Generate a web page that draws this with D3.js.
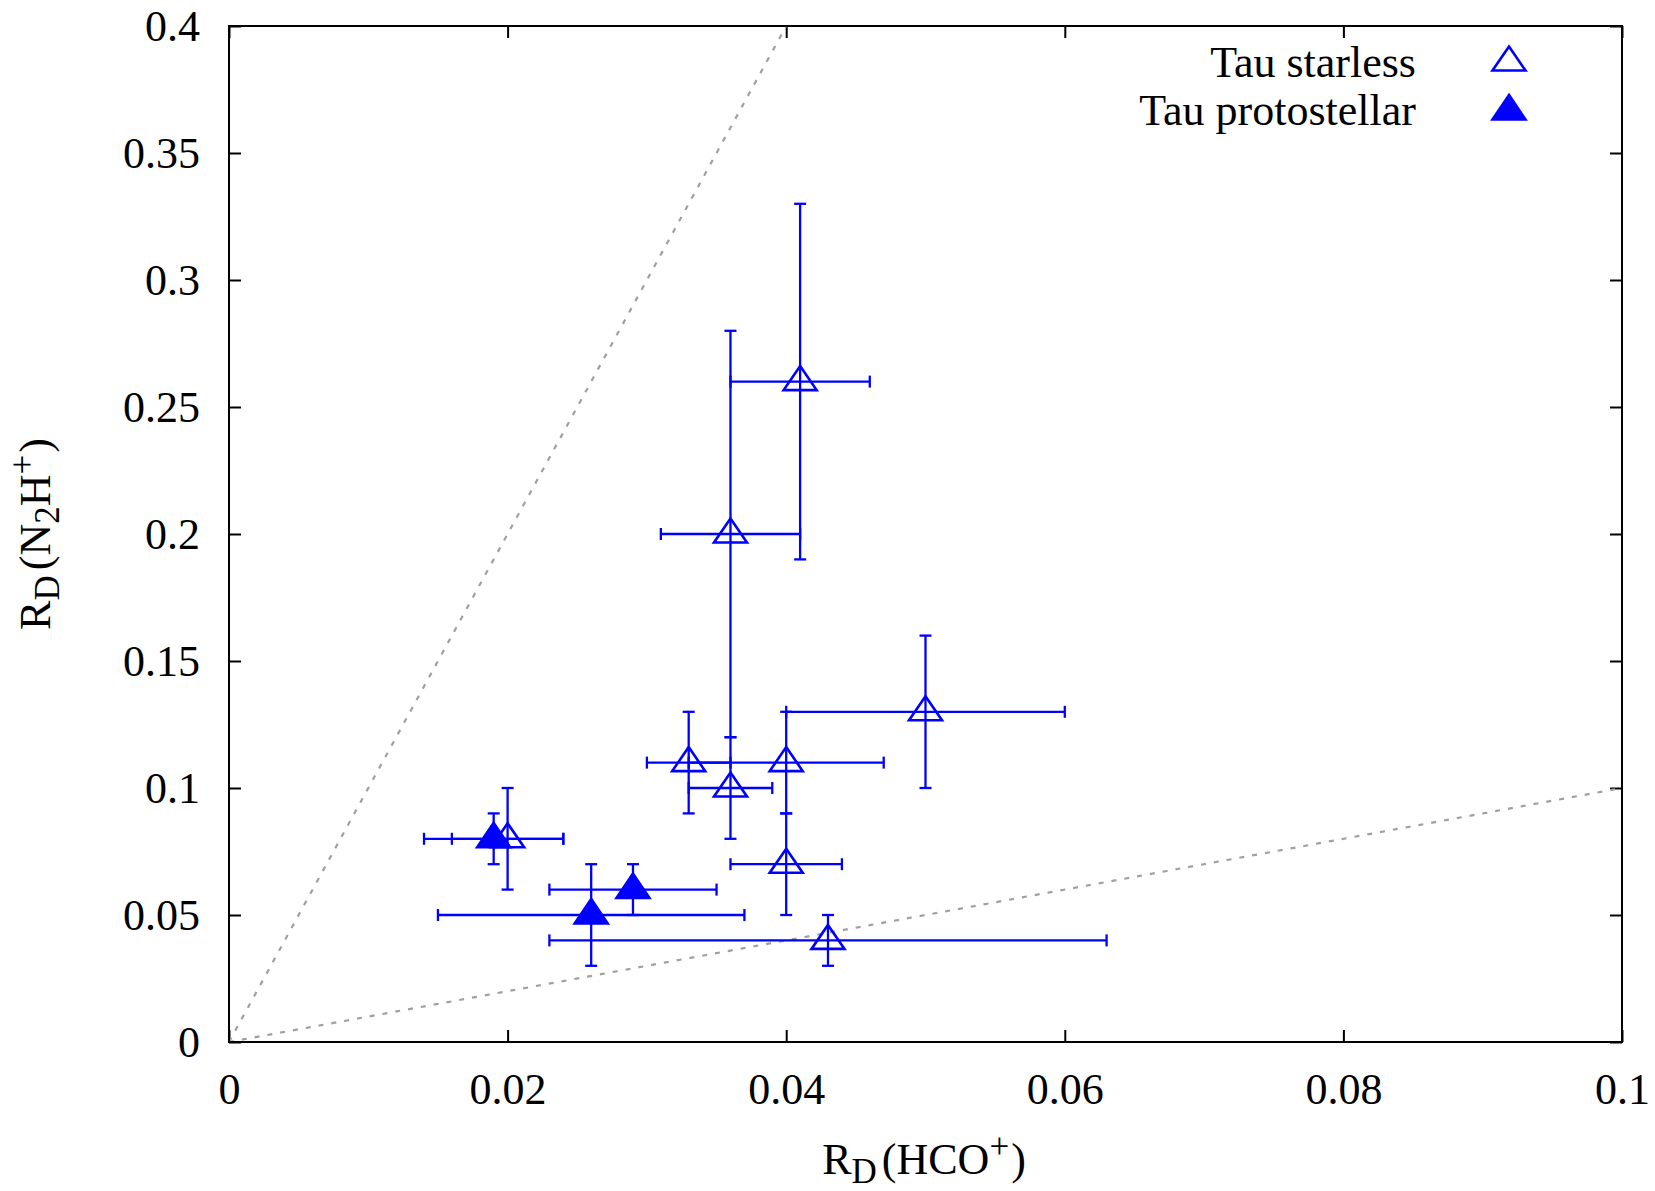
<!DOCTYPE html>
<html>
<head>
<meta charset="utf-8">
<script src="https://cdn.jsdelivr.net/npm/d3@7"></script>
<style>
  html, body { margin: 0; padding: 0; background: #fff; }
  svg { display: block; }
  text { font-family: "Liberation Serif", "Times New Roman", serif; fill: #000; }
</style>
</head>
<body>
<svg id="chart" width="1655" height="1191"></svg>
<script>
// Deuterium fractionation ratios: R_D(HCO+) vs R_D(N2H+)
const starlessX    = [0.041, 0.036, 0.050, 0.033, 0.040, 0.036, 0.040, 0.043, 0.020];
const starlessY    = [0.26,  0.20,  0.13,  0.11,  0.11,  0.10,  0.07,  0.04,  0.08];
const starlessXlo  = [0.036, 0.031, 0.040, 0.030, 0.033, 0.033, 0.036, 0.023, 0.016];
const starlessXhi  = [0.046, 0.041, 0.060, 0.036, 0.047, 0.039, 0.044, 0.063, 0.024];
const starlessYlo  = [0.19,  0.12,  0.10,  0.09,  0.09,  0.08,  0.05,  0.03,  0.06];
const starlessYhi  = [0.33,  0.28,  0.16,  0.13,  0.13,  0.12,  0.09,  0.05,  0.10];

const protoX   = [0.019, 0.026, 0.029];
const protoY   = [0.08,  0.05,  0.06];
const protoXlo = [0.014, 0.015, 0.023];
const protoXhi = [0.024, 0.037, 0.035];
const protoYlo = [0.07,  0.03,  0.05];
const protoYhi = [0.09,  0.07,  0.07];

// reference ratios y = k * x
const ratioLines = [10, 1];

const xTicks = [0, 0.02, 0.04, 0.06, 0.08, 0.1];
const yTicks = [0, 0.05, 0.1, 0.15, 0.2, 0.25, 0.3, 0.35, 0.4];
const xTickLabels = ["0", "0.02", "0.04", "0.06", "0.08", "0.1"];
const yTickLabels = ["0", "0.05", "0.1", "0.15", "0.2", "0.25", "0.3", "0.35", "0.4"];

const legendLabels = ["Tau starless", "Tau protostellar"];

const blue = "#0000ff";
const margin = { left: 229, right: 1622, top: 26, bottom: 1042 };

const svg = d3.select("#chart");
const x = d3.scaleLinear().domain([0, 0.1]).range([margin.left, margin.right]);
const y = d3.scaleLinear().domain([0, 0.4]).range([margin.bottom, margin.top]);

svg.append("defs").append("clipPath").attr("id", "plotclip")
  .append("rect")
  .attr("x", margin.left).attr("y", margin.top)
  .attr("width", margin.right - margin.left).attr("height", margin.bottom - margin.top);

// axes with inward ticks on all four sides
const fontSize = 44;
const ax = svg.append("g").attr("transform", `translate(0,${margin.bottom})`)
  .call(d3.axisBottom(x).tickValues(xTicks).tickFormat((d, i) => xTickLabels[i])
        .tickSizeInner(-12).tickSizeOuter(0));
ax.selectAll("text").attr("y", 62).attr("dy", null).attr("font-size", fontSize);

const ay = svg.append("g").attr("transform", `translate(${margin.left},0)`)
  .call(d3.axisLeft(y).tickValues(yTicks).tickFormat((d, i) => yTickLabels[i])
        .tickSizeInner(-12).tickSizeOuter(0).tickPadding(29));
ay.selectAll("text").attr("font-size", fontSize).attr("dy", "0.33em");

svg.append("g").attr("transform", `translate(0,${margin.top})`)
  .call(d3.axisTop(x).tickValues(xTicks).tickFormat("").tickSizeInner(-12).tickSizeOuter(0));
svg.append("g").attr("transform", `translate(${margin.right},0)`)
  .call(d3.axisRight(y).tickValues(yTicks).tickFormat("").tickSizeInner(-12).tickSizeOuter(0));

svg.selectAll(".domain").remove();
svg.selectAll(".tick line").attr("stroke", "#000").attr("stroke-width", 2);
svg.selectAll(".tick text").attr("font-family", "Liberation Serif, Times New Roman, serif").attr("fill", "#000");

// dotted ratio lines
const lines = svg.append("g").attr("clip-path", "url(#plotclip)");
ratioLines.forEach(k => {
  lines.append("line")
    .attr("x1", x(0)).attr("y1", y(0))
    .attr("x2", x(0.1)).attr("y2", y(0.1 * k))
    .attr("stroke", "#a0a0a0").attr("stroke-width", 2.2)
    .attr("stroke-dasharray", "5,8");
});

// plot frame
svg.append("rect")
  .attr("x", margin.left).attr("y", margin.top)
  .attr("width", margin.right - margin.left).attr("height", margin.bottom - margin.top)
  .attr("fill", "none").attr("stroke", "#000").attr("stroke-width", 2);

const cap = 6;
function triPath(cx, cy, filled) {
  const up = filled ? 17 : 15.5, dn = filled ? 9 : 8.5, hw = filled ? 17.5 : 16.5;
  return `M${cx},${cy - up}L${cx + hw},${cy + dn}L${cx - hw},${cy + dn}Z`;
}

function drawSeries(xs, ys, xlo, xhi, ylo, yhi, filled) {
  const g = svg.append("g");
  xs.forEach((xv, i) => {
    const px = x(xv), py = y(ys[i]);
    const e = g.append("g").attr("stroke", blue).attr("stroke-width", 2.3).attr("fill", "none");
    // vertical bar
    e.append("line").attr("x1", px).attr("x2", px).attr("y1", y(ylo[i])).attr("y2", y(yhi[i]));
    e.append("line").attr("x1", px - cap).attr("x2", px + cap).attr("y1", y(ylo[i])).attr("y2", y(ylo[i]));
    e.append("line").attr("x1", px - cap).attr("x2", px + cap).attr("y1", y(yhi[i])).attr("y2", y(yhi[i]));
    // horizontal bar
    e.append("line").attr("y1", py).attr("y2", py).attr("x1", x(xlo[i])).attr("x2", x(xhi[i]));
    e.append("line").attr("y1", py - cap).attr("y2", py + cap).attr("x1", x(xlo[i])).attr("x2", x(xlo[i]));
    e.append("line").attr("y1", py - cap).attr("y2", py + cap).attr("x1", x(xhi[i])).attr("x2", x(xhi[i]));
    g.append("path").attr("d", triPath(px, py, filled))
      .attr("fill", filled ? blue : "none").attr("stroke", blue)
      .attr("stroke-width", filled ? 1.5 : 2.6).attr("stroke-linejoin", "miter");
  });
}

drawSeries(starlessX, starlessY, starlessXlo, starlessXhi, starlessYlo, starlessYhi, false);
drawSeries(protoX, protoY, protoXlo, protoXhi, protoYlo, protoYhi, true);

// legend
const legend = svg.append("g");
[[77, 62, false], [125, 111, true]].forEach(([by, ty, filled], i) => {
  legend.append("text").attr("x", 1416).attr("y", by).attr("text-anchor", "end")
    .attr("font-size", fontSize).text(legendLabels[i]);
  legend.append("path").attr("d", triPath(1509, ty, filled))
    .attr("fill", filled ? blue : "none").attr("stroke", blue)
    .attr("stroke-width", filled ? 1.5 : 2.6);
});

// axis titles
const sub = 35;
const xl = svg.append("text").attr("x", 924).attr("y", 1174)
  .attr("text-anchor", "middle").attr("font-size", fontSize);
xl.append("tspan").text("R");
xl.append("tspan").attr("font-size", sub).attr("dy", 9).text("D");
xl.append("tspan").attr("dy", -9).attr("dx", 5).text("(HCO");
xl.append("tspan").attr("font-size", sub).attr("dy", -16).text("+");
xl.append("tspan").attr("dy", 16).attr("dx", 2).text(")");

const yl = svg.append("text").attr("transform", "translate(50,534) rotate(-90)")
  .attr("text-anchor", "middle").attr("font-size", fontSize);
yl.append("tspan").text("R");
yl.append("tspan").attr("font-size", sub).attr("dy", 9).text("D");
yl.append("tspan").attr("dy", -9).attr("dx", 5).text("(N");
yl.append("tspan").attr("font-size", sub).attr("dy", 9).text("2");
yl.append("tspan").attr("dy", -9).text("H");
yl.append("tspan").attr("font-size", sub).attr("dy", -16).text("+");
yl.append("tspan").attr("dy", 16).attr("dx", 2).text(")");
</script>
</body>
</html>
